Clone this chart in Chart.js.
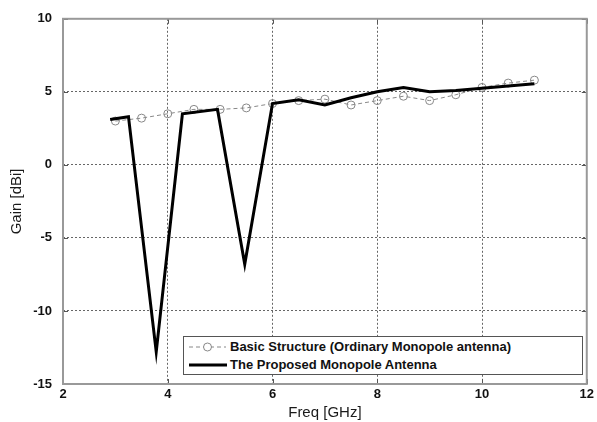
<!DOCTYPE html>
<html>
<head>
<meta charset="utf-8">
<script src="https://cdn.jsdelivr.net/npm/chart.js@4/dist/chart.umd.min.js"></script>
<style>
html,body{margin:0;padding:0;background:#fff;}
#wrap{position:relative;width:597px;height:422px;}
#legend{position:absolute;left:183px;top:336px;width:398px;height:37px;border:1px solid #555;background:#fff;font-family:"Liberation Sans",Arial,sans-serif;font-weight:bold;font-size:13px;color:#111;}
.row{position:absolute;left:0;height:18px;line-height:18px;white-space:nowrap;}
.row svg{position:absolute;left:4px;top:2px;}
.row span{position:absolute;left:46px;top:0;}
</style>
</head>
<body>
<div id="wrap">
<canvas id="c" width="597" height="422"></canvas>
<div id="legend">
  <div class="row" style="top:1px;"><svg width="40" height="14"><line x1="1" y1="7" x2="38" y2="7" stroke="#888" stroke-width="1" stroke-dasharray="4,3"/><circle cx="19.5" cy="7" r="4" fill="#fff" stroke="#888" stroke-width="1"/></svg><span>Basic Structure (Ordinary Monopole antenna)</span></div>
  <div class="row" style="top:19px;"><svg width="40" height="14"><line x1="1" y1="7" x2="39" y2="7" stroke="#000" stroke-width="3"/></svg><span>The Proposed Monopole Antenna</span></div>
</div>
</div>
<script>
const basicFreq = [3.0, 3.5, 4.0, 4.5, 5.0, 5.5, 6.0, 6.5, 7.0, 7.5, 8.0, 8.5, 9.0, 9.5, 10.0, 10.5, 11.0];
const basicGain = [3.0, 3.2, 3.5, 3.8, 3.8, 3.9, 4.2, 4.4, 4.5, 4.1, 4.4, 4.7, 4.4, 4.8, 5.3, 5.6, 5.8];
const propFreq = [2.9, 3.25, 3.78, 4.28, 4.95, 5.47, 6.0, 6.5, 7.0, 7.5, 8.0, 8.5, 9.0, 9.5, 10.0, 10.5, 11.0];
const propGain = [3.1, 3.3, -12.8, 3.5, 3.8, -6.8, 4.2, 4.45, 4.1, 4.6, 5.0, 5.3, 5.0, 5.1, 5.25, 5.4, 5.55];
const xTicks = [2, 4, 6, 8, 10, 12];
const yTicks = [-15, -10, -5, 0, 5, 10];

const toPts = (xs, ys) => xs.map((x, i) => ({x: x, y: ys[i]}));

const frame = {
  id: 'frame',
  afterDraw(chart) {
    const ctx = chart.ctx, a = chart.chartArea;
    const xs = chart.scales.x, ys = chart.scales.y;
    ctx.save();
    ctx.strokeStyle = '#555';
    ctx.lineWidth = 1;
    ctx.beginPath();
    xTicks.forEach(v => {
      const p = Math.round(xs.getPixelForValue(v)) + 0.5;
      ctx.moveTo(p, a.bottom); ctx.lineTo(p, a.bottom - 5);
      ctx.moveTo(p, a.top); ctx.lineTo(p, a.top + 5);
    });
    yTicks.forEach(v => {
      const p = Math.round(ys.getPixelForValue(v)) + 0.5;
      ctx.moveTo(a.left, p); ctx.lineTo(a.left + 5, p);
      ctx.moveTo(a.right, p); ctx.lineTo(a.right - 5, p);
    });
    ctx.stroke();
    ctx.strokeStyle = '#999';
    ctx.lineWidth = 2;
    ctx.strokeRect(a.left, a.top, a.right - a.left, a.bottom - a.top);
    ctx.restore();
  }
};

const tickFont = {family: '"Liberation Sans", Arial, sans-serif', size: 13, weight: 'bold'};
const titleFont = {family: '"Liberation Sans", Arial, sans-serif', size: 15};

new Chart(document.getElementById('c'), {
  type: 'scatter',
  data: {
    datasets: [
      {
        label: 'Basic Structure (Ordinary Monopole antenna)',
        data: toPts(basicFreq, basicGain),
        showLine: true,
        borderColor: '#888',
        borderWidth: 1,
        borderDash: [4, 3],
        pointStyle: 'circle',
        pointRadius: 4,
        pointBorderColor: '#888',
        pointBackgroundColor: 'rgba(255,255,255,0)',
        pointBorderWidth: 1,
        order: 2
      },
      {
        label: 'The Proposed Monopole Antenna',
        data: toPts(propFreq, propGain),
        showLine: true,
        borderColor: '#000',
        borderWidth: 3,
        pointRadius: 0,
        borderJoinStyle: 'miter',
        order: 1
      }
    ]
  },
  options: {
    responsive: false,
    animation: false,
    events: [],
    layout: {padding: {left: 0, right: 7, top: 15, bottom: 0}},
    plugins: {legend: {display: false}, tooltip: {enabled: false}},
    scales: {
      x: {
        type: 'linear', min: 2, max: 12,
        afterBuildTicks: s => { s.ticks = xTicks.map(v => ({value: v})); },
        afterFit: s => { s.height = 38; },
        border: {display: false, dash: [2, 2]},
        grid: {color: '#666', lineWidth: 1, drawTicks: false},
        ticks: {padding: 3, color: '#111', font: tickFont},
        title: {display: true, text: 'Freq [GHz]', color: '#1a1a1a', padding: {top: 3, bottom: 0}, font: titleFont}
      },
      y: {
        type: 'linear', min: -15, max: 10,
        afterBuildTicks: s => { s.ticks = yTicks.map(v => ({value: v})); },
        afterFit: s => { s.width = 63; },
        border: {display: false, dash: [2, 2]},
        grid: {color: '#666', lineWidth: 1, drawTicks: false},
        ticks: {padding: 11, color: '#111', font: tickFont},
        title: {display: true, text: 'Gain [dBi]', color: '#1a1a1a', padding: {top: 8, bottom: 0}, font: titleFont}
      }
    }
  },
  plugins: [frame]
});
</script>
</body>
</html>
